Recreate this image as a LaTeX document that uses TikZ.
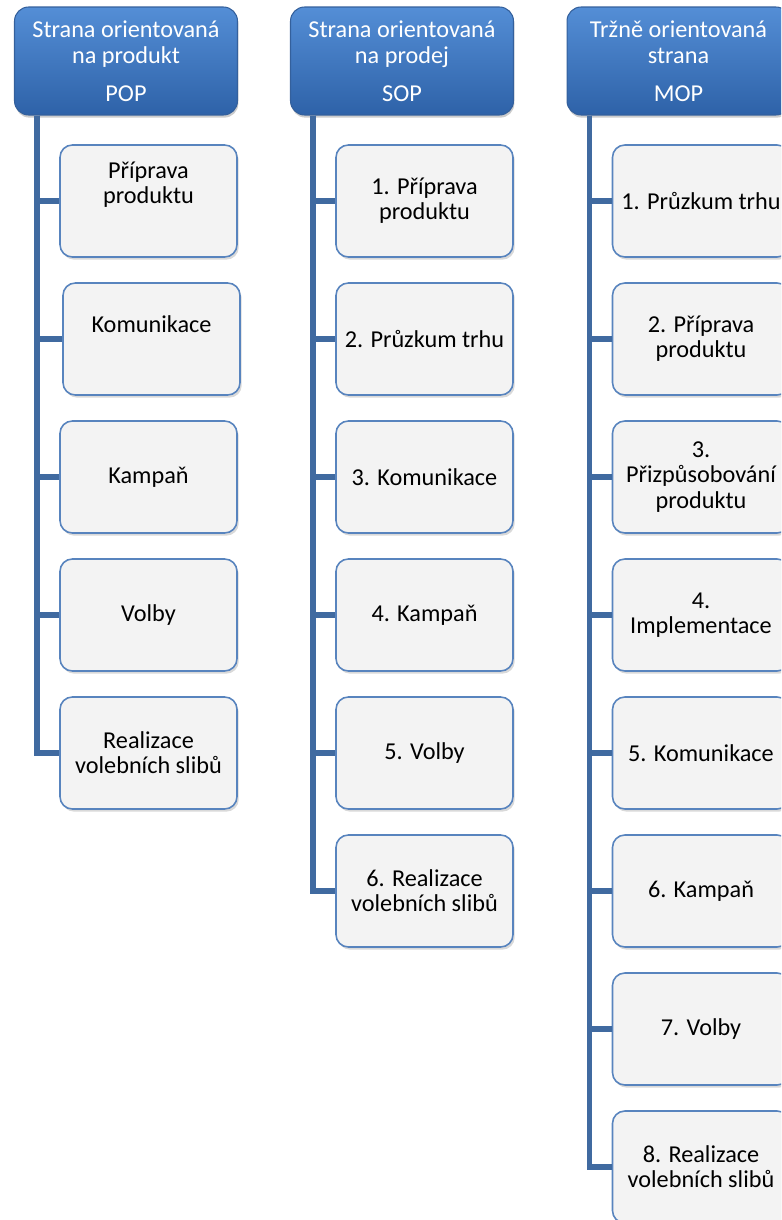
\documentclass[tikz,border=0pt]{standalone}
\usepackage{fontspec}
\setmainfont{Carlito}
\usetikzlibrary{shadows}

\definecolor{headtop}{RGB}{84,142,214}
\definecolor{headbot}{RGB}{46,98,168}
\definecolor{headline}{RGB}{52,96,156}
\definecolor{linkblue}{RGB}{64,106,160}
\definecolor{boxline}{RGB}{88,132,190}
\definecolor{boxfill}{RGB}{243,243,243}

\tikzset{
  head/.style={rectangle, rounded corners=8pt, draw=headline, line width=0.6pt,
    top color=headtop, bottom color=headbot, text=white, align=center,
    minimum width=4.46cm, minimum height=2.16cm, inner sep=2pt,
    font=\fontsize{13.8}{14.8}\selectfont,
    drop shadow={opacity=0.4, shadow xshift=0.5pt, shadow yshift=-1.5pt}},
  item/.style={rectangle, rounded corners=7pt, draw=boxline, line width=0.9pt,
    fill=boxfill, text=black, align=center,
    minimum width=3.54cm, minimum height=2.24cm, inner sep=2pt,
    font=\fontsize{13.8}{14.3}\selectfont,
    drop shadow={opacity=0.3, shadow xshift=1pt, shadow yshift=-1.5pt}},
  lift/.style={text depth=#1},
  conn/.style={draw=linkblue, line width=3pt}
}

\begin{document}
\begin{tikzpicture}[x=0.02cm, y=-0.02cm]

  \useasboundingbox (0,0) rectangle (781,1220);
  \clip (0,0) rectangle (781,1220);

  % ---- POP ----
  \node[head] (pop) at (126,61) {Strana orientovaná\\na produkt\\[7pt]POP};
  \node[item, lift=21pt] (pop1) at (148.5,201) {Příprava\\produktu};
  \node[item, lift=17pt] (pop2) at (151.5,339) {Komunikace};
  \node[item] (pop3) at (148.5,477) {Kampaň};
  \node[item] (pop4) at (148.5,615) {Volby};
  \node[item] (pop5) at (148.5,753) {Realizace\\volebních slibů};

  % ---- SOP ----
  \node[head] (sop) at (402,61) {Strana orientovaná\\na prodej\\[7pt]SOP};
  \node[item] (sop1) at (424.5,201) {1. Příprava\\produktu};
  \node[item] (sop2) at (424.5,339) {2. Průzkum trhu};
  \node[item] (sop3) at (424.5,477) {3. Komunikace};
  \node[item] (sop4) at (424.5,615) {4. Kampaň};
  \node[item] (sop5) at (424.5,753) {5. Volby};
  \node[item] (sop6) at (424.5,891) {6. Realizace\\volebních slibů};

  % ---- MOP ----
  \node[head] (mop) at (678.5,61) {Tržně orientovaná\\strana\\[7pt]MOP};
  \node[item] (mop1) at (701,201) {1. Průzkum trhu};
  \node[item] (mop2) at (701,339) {2. Příprava\\produktu};
  \node[item] (mop3) at (701,477) {3.\\Přizpůsobování\\produktu};
  \node[item] (mop4) at (701,615) {4.\\Implementace};
  \node[item] (mop5) at (701,753) {5. Komunikace};
  \node[item] (mop6) at (701,891) {6. Kampaň};
  \node[item] (mop7) at (701,1029) {7. Volby};
  \node[item] (mop8) at (701,1167) {8. Realizace\\volebních slibů};

  % connectors
  \foreach \col/\n in {pop/5, sop/6, mop/8}{
    \coordinate (\col top) at ([xshift=0.46cm]\col.south west);
    \foreach \i in {1,...,\n}
      \draw[conn] (\col top) |- (\col\i.west);
  }

\end{tikzpicture}
\end{document}
